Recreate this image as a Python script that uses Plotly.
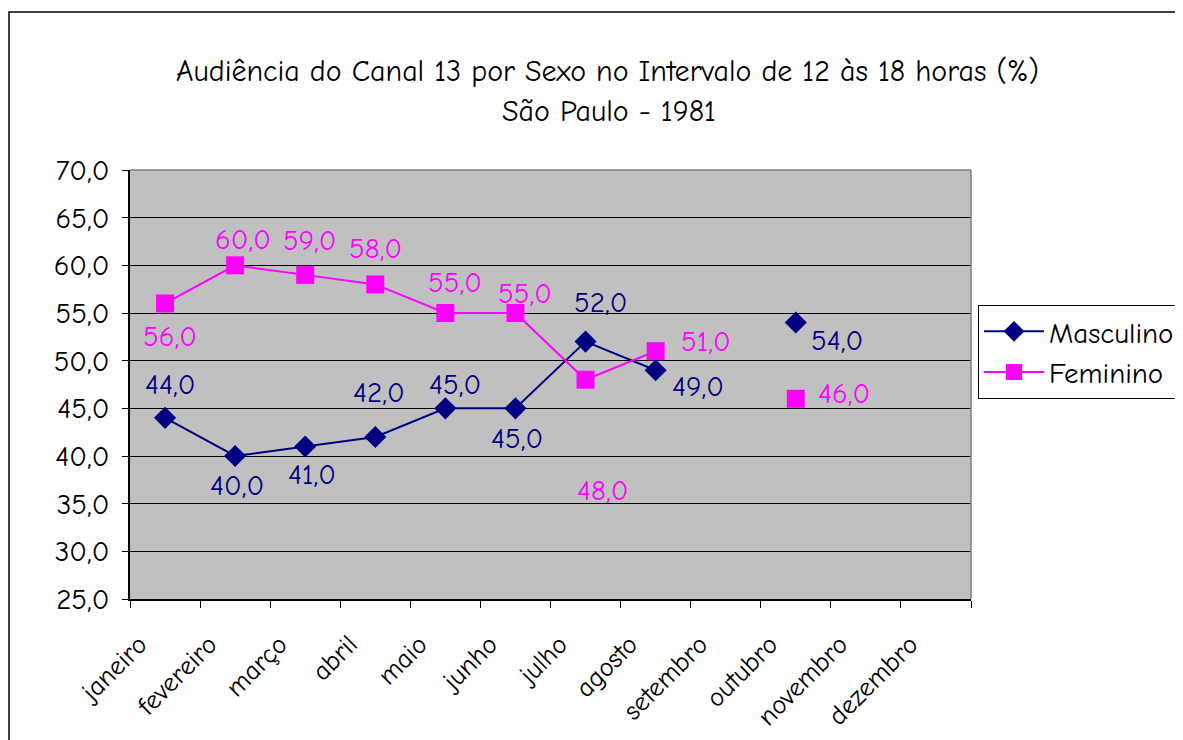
import plotly.graph_objects as go

months = ["janeiro", "fevereiro", "março", "abril", "maio", "junho", "julho",
          "agosto", "setembro", "outubro", "novembro", "dezembro"]
masculino = [44.0, 40.0, 41.0, 42.0, 45.0, 45.0, 52.0, 49.0, None, 54.0, None, None]
feminino = [56.0, 60.0, 59.0, 58.0, 55.0, 55.0, 48.0, 51.0, None, 46.0, None, None]

# label offsets (pixels) for the data labels, styling only
masc_off = [(5, -33), (2, 29), (7, 28), (4, -44), (10, -24), (2, 30), (15, -39), (42, 16), None, (41, 18), None, None]
fem_off = [(5, 33), (8, -26), (5, -34), (0, -36), (10, -31), (10, -20), (17, 111), (50, -10), None, (48, -5), None, None]

FONT = "Comic Sans MS, Comic Neue, Noto Sans, DejaVu Sans"
NAVY = "#000080"
MAG = "#FF00FF"
FS = 29

fig = go.Figure()
fig.add_trace(go.Scatter(x=months, y=masculino, name="Masculino", mode="lines+markers",
                         line=dict(color=NAVY, width=2),
                         marker=dict(symbol="diamond", size=17, color=NAVY, line=dict(width=0)),
                         connectgaps=False))
fig.add_trace(go.Scatter(x=months, y=feminino, name="Feminino", mode="lines+markers",
                         line=dict(color=MAG, width=2),
                         marker=dict(symbol="square", size=18, color=MAG, line=dict(width=0)),
                         connectgaps=False))

annotations = []
for vals, offs, col in ((masculino, masc_off, NAVY), (feminino, fem_off, MAG)):
    for m, v, o in zip(months, vals, offs):
        if v is None:
            continue
        annotations.append(dict(x=m, y=v, xref="x", yref="y", text=f"{v:.1f}".replace(".", ","),
                                showarrow=False, xshift=o[0], yshift=-o[1],
                                font=dict(family=FONT, size=FS, color=col)))

OFF = 8  # page offset observed in the browser
L, T, W, H = 130 - OFF, 170 - OFF, 841, 429
def px(x):
    return (x - OFF - L) / W
def py(y):
    return (T + H - (y - OFF)) / H

annotations.append(dict(x=px(607), y=py(72), xref="paper", yref="paper", showarrow=False,
                        text="Audiência do Canal 13 por Sexo no Intervalo de 12 às 18 horas (%)",
                        font=dict(family=FONT, size=30, color="black"), xanchor="center", yanchor="middle"))
annotations.append(dict(x=px(609), y=py(111), xref="paper", yref="paper", showarrow=False,
                        text="São Paulo - 1981",
                        font=dict(family=FONT, size=30, color="black"), xanchor="center", yanchor="middle"))

shapes = [
    dict(type="rect", xref="paper", yref="paper", x0=px(9), y0=py(800), x1=px(1300), y1=py(12),
         line=dict(color="black", width=1.5), fillcolor="rgba(0,0,0,0)", layer="below"),
    dict(type="line", xref="paper", yref="paper", x0=0, x1=1, y0=1, y1=1, line=dict(color="#808080", width=1.5)),
    dict(type="line", xref="paper", yref="paper", x0=1, x1=1, y0=0, y1=1, line=dict(color="#808080", width=1.5)),
]

fig.update_layout(
    width=1183, height=740,
    margin=dict(l=L, r=1183 - L - W, t=T, b=740 - T - H, autoexpand=False),
    paper_bgcolor="white", plot_bgcolor="#C0C0C0",
    separators=",.",
    font=dict(family=FONT, size=FS, color="black"),
    showlegend=True,
    legend=dict(x=px(978), y=py(305), xanchor="left", yanchor="top",
                bgcolor="white", bordercolor="black", borderwidth=1,
                font=dict(family=FONT, size=FS, color="black"),
                itemwidth=60, tracegroupgap=0),
    annotations=annotations,
    shapes=shapes,
    xaxis=dict(type="category", categoryorder="array", categoryarray=months,
               tickson="boundaries", ticks="outside", ticklen=7, tickcolor="black", tickwidth=1,
               showline=True, linecolor="black", linewidth=1.5, showgrid=False, zeroline=False,
               tickangle=-45, ticklabelshift=-26, ticklabelstandoff=17,
               tickfont=dict(family=FONT, size=27, color="black"),
               range=[-0.5, 11.5]),
    yaxis=dict(range=[25, 70], dtick=5, tick0=25, tickformat=".1f",
               ticks="outside", ticklen=6, tickcolor="black",
               showline=True, linecolor="black", linewidth=1.5,
               showgrid=True, gridcolor="black", gridwidth=1, zeroline=False,
               ticklabelstandoff=7,
               tickfont=dict(family=FONT, size=FS, color="black")),
)

fig.write_html("out.html")
